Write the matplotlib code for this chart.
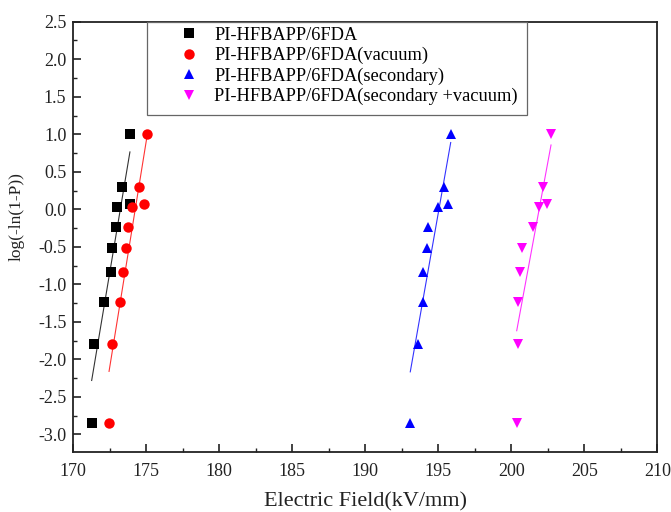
import numpy as np
import matplotlib
matplotlib.use("Agg")
import matplotlib.pyplot as plt
from matplotlib.ticker import MultipleLocator
from matplotlib.patches import Rectangle

plt.rcParams['font.family'] = ['Liberation Serif', 'DejaVu Serif']

# log(-ln(1-P)) levels
y_levels = [1.0, 0.30, 0.07, 0.03, -0.23, -0.52, -0.84, -1.23, -1.79, -2.85]

x_plain = [173.88, 173.36, 173.88, 173.00, 172.92, 172.65, 172.58, 172.08, 171.40, 171.26]
x_vacuum = [175.03, 174.52, 174.84, 174.02, 173.75, 173.59, 173.40, 173.17, 172.63, 172.45]
x_secondary = [195.85, 195.41, 195.68, 195.00, 194.27, 194.20, 193.93, 193.93, 193.59, 193.08]
x_sec_vac = [202.72, 202.19, 202.42, 201.92, 201.50, 200.71, 200.60, 200.44, 200.44, 200.37]

labels = ["PI-HFBAPP/6FDA", "PI-HFBAPP/6FDA(vacuum)",
          "PI-HFBAPP/6FDA(secondary)", "PI-HFBAPP/6FDA(secondary +vacuum)"]
colors = ["black", "#ff0000", "#0000ff", "#ff00ff"]
markers = ["s", "o", "^", "v"]

x_ticks = [170, 175, 180, 185, 190, 195, 200, 205, 210]
y_ticks = [-3.0, -2.5, -2.0, -1.5, -1.0, -0.5, 0.0, 0.5, 1.0, 1.5, 2.0, 2.5]

fig = plt.figure(figsize=(6.71, 5.12), dpi=100)
ax = fig.add_axes([0.1092, 0.1178, 0.8704, 0.8398])

series = [x_plain, x_vacuum, x_secondary, x_sec_vac]
y = np.array(y_levels)
for xs, lab, c, m in zip(series, labels, colors, markers):
    xs = np.array(xs)
    ax.plot(xs, y, linestyle='none', marker=m, color=c, markersize=7.5,
            markeredgewidth=0, label=lab)
    k, b = np.polyfit(xs, y, 1)
    xl = np.array([xs.min(), xs.max()])
    ax.plot(xl, k * xl + b, color=c, linewidth=0.8, alpha=0.8)

ax.set_xlim(170, 210)
ax.set_ylim(-3.23, 2.5)
ax.set_xticks(x_ticks)
ax.set_yticks(y_ticks)
ax.set_yticklabels([f"{v:.1f}" for v in y_ticks])
ax.xaxis.set_minor_locator(MultipleLocator(2.5))
ax.yaxis.set_minor_locator(MultipleLocator(0.25))
ax.tick_params(which='both', direction='in', top=False, right=False,
               labelsize=13, colors='#222222')
ax.tick_params(axis='x', which='major', pad=8)
ax.tick_params(axis='y', which='major', pad=5)
ax.tick_params(which='major', length=6, width=1.2)
ax.tick_params(which='minor', length=3, width=1.0)
for s in ax.spines.values():
    s.set_linewidth(1.3)
    s.set_color('#222222')

ax.set_xlabel("Electric Field(kV/mm)", fontsize=16, color='#222222', labelpad=9)
ax.set_ylabel("log(-ln(1-P))", fontsize=12.5, color='#222222')
ax.yaxis.set_label_coords(-0.084, 0.546)

# legend frame
ax.add_patch(Rectangle((0.1262, 0.783), 0.6507, 0.217, transform=ax.transAxes,
                       facecolor='white', edgecolor='#666666', linewidth=0.9,
                       zorder=4, clip_on=False))
leg = ax.legend(loc='upper left', bbox_to_anchor=(0.1827, 0.9888), fontsize=13.2,
                frameon=False, handletextpad=0.87, borderpad=0, labelspacing=0.18,
                handlelength=1.0, borderaxespad=0)
leg.set_zorder(5)

fig.savefig("out.png", dpi=100)
